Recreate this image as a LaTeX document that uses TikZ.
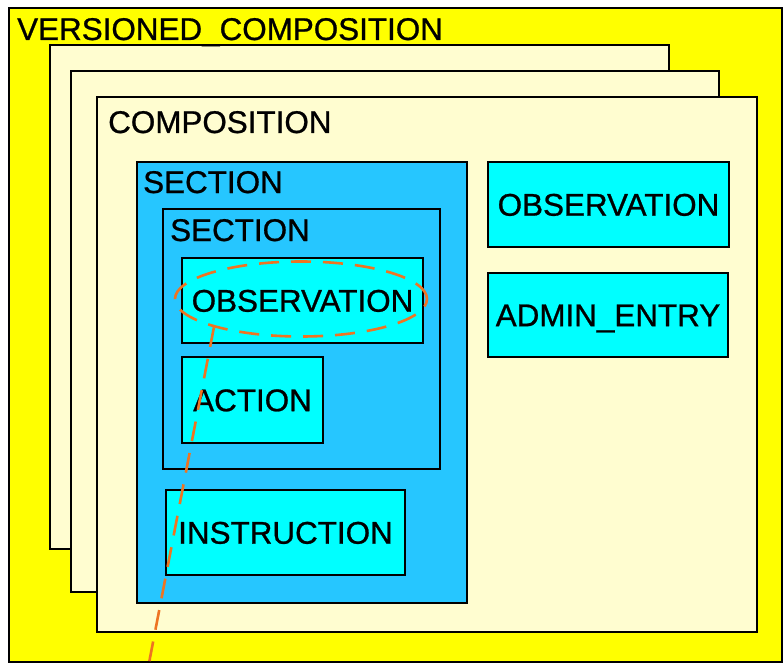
\documentclass[tikz,border=0pt]{standalone}
\usepackage{fontspec}
\setmainfont{Liberation Sans}
\newfontfamily\diagfont[FakeBold=0.8]{Liberation Sans}
\usetikzlibrary{shapes.geometric}
\definecolor{vyellow}{HTML}{FFFF00}
\definecolor{cream}{HTML}{FFFDD0}
\definecolor{secblue}{HTML}{26C6FF}
\definecolor{leafcyan}{HTML}{00FFFF}
\definecolor{hlorange}{HTML}{EE7422}
\begin{document}
\begin{tikzpicture}[x=1bp,y=-1bp,
  box/.style={draw=black, line width=1.6bp, anchor=north west, inner sep=0pt, outer sep=0pt},
  leaf/.style={draw=black, line width=1.6bp, fill=leafcyan, anchor=center, inner sep=0pt, outer sep=0pt,
    font=\diagfont\fontsize{31.4bp}{36bp}\selectfont, text height=22.4bp, text depth=0pt},
  title/.style={anchor=base west, inner sep=0pt, font=\diagfont\fontsize{31.4bp}{36bp}\selectfont},
  hl/.style={draw=hlorange, line width=2.6bp, dash pattern=on 20bp off 12bp}]
\useasboundingbox (0,0) rectangle (783,663);
\node[box, fill=vyellow, minimum width=773bp, minimum height=654bp] (vc) at (9,8) {};
\node[box, fill=cream, minimum width=619bp, minimum height=504bp] (p1) at (50,45) {};
\node[box, fill=cream, minimum width=648bp, minimum height=521bp] (p2) at (71,71) {};
\node[box, fill=cream, minimum width=660bp, minimum height=535bp] (comp) at (97,97) {};
\node[title] (vct) at (17,40) {VERSIONED\_COMPOSITION};
\node[title] (compt) at (108,133) {COMPOSITION};
\node[box, fill=secblue, minimum width=330bp, minimum height=441bp] (sec1) at (137,162) {};
\node[title] (sec1t) at (143,193) {SECTION};
\node[box, fill=secblue, minimum width=277bp, minimum height=260bp] (sec2) at (163,209) {};
\node[title] (sec2t) at (170,241) {SECTION};
\node[leaf, minimum width=241bp, minimum height=85bp] (obs1) at (302.5,300.5) {OBSERVATION};
\node[leaf, minimum width=141bp, minimum height=86bp] (act) at (252.5,400) {ACTION};
\node[leaf, minimum width=239bp, minimum height=85bp] (instr) at (285.5,532.5) {INSTRUCTION};
\node[leaf, minimum width=241bp, minimum height=85bp] (obs2) at (608.5,204.5) {OBSERVATION};
\node[leaf, minimum width=240bp, minimum height=84bp] (admin) at (608,315) {ADMIN\_ENTRY};
\node[hl, ellipse, minimum width=252bp, minimum height=75bp, inner sep=0pt] (mark) at (301,299) {};
\coordinate (tail) at (149,663);
\draw[hl] (mark.198.4) -- (tail);
\end{tikzpicture}
\end{document}
